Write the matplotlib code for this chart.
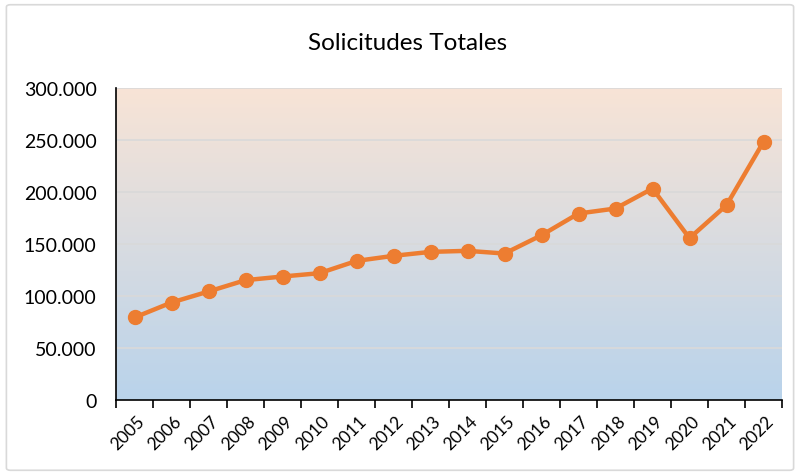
import matplotlib
matplotlib.use('Agg')
import matplotlib.pyplot as plt
import matplotlib.transforms as mtransforms
from matplotlib.patches import FancyBboxPatch
from matplotlib.colors import LinearSegmentedColormap
from matplotlib.ticker import FuncFormatter, FixedLocator
import numpy as np

# datos
years = [str(y) for y in range(2005, 2023)]
solicitudes = [79500, 93900, 104500, 115400, 118900, 122100, 133900, 138800, 142600,
               143600, 141000, 158600, 179500, 184300, 203500, 155800, 187500, 248400]
y_ticks = [0, 50000, 100000, 150000, 200000, 250000, 300000]

plt.rcParams['font.family'] = ['Lato', 'DejaVu Sans']

fig = plt.figure(figsize=(8, 4.77), dpi=100)
# borde del area del grafico
fig.patches.append(FancyBboxPatch((0.008, 0.012), 0.984, 0.976, boxstyle='round,pad=0,rounding_size=0.005',
                                  transform=fig.transFigure, facecolor='none',
                                  edgecolor='#D9D9D9', linewidth=1.2, zorder=5))
ax = fig.add_axes([0.145, 0.159, 0.8325, 0.654])

x = np.arange(len(years))
ax.set_xlim(-0.5, len(years) - 0.5)
ax.set_ylim(0, 300000)

# fondo degradado
cmap = LinearSegmentedColormap.from_list('bg', ['#B9D3EB', '#F8E4D6'])
grad = np.linspace(0, 1, 256).reshape(-1, 1)
ax.imshow(grad, aspect='auto', cmap=cmap, origin='lower',
          extent=[-0.5, len(years) - 0.5, 0, 300000], zorder=0)

for yt in y_ticks[1:]:
    ax.axhline(yt, color='#D9D9D9', linewidth=1.2, zorder=1)

ax.plot(x, solicitudes, color='#ED7D31', linewidth=3.2, marker='o', markersize=10, zorder=3)

ax.set_yticks(y_ticks)
ax.yaxis.set_major_formatter(FuncFormatter(lambda v, p: f'{int(v):,}'.replace(',', '.')))
ax.tick_params(axis='y', length=0, labelsize=14, pad=14)

ax.set_xticks(x)
ax.set_xticklabels(years, rotation=45, ha='right', va='top', rotation_mode='anchor', fontsize=12.5)
ax.tick_params(axis='x', which='major', length=0, pad=9)
shift = mtransforms.ScaledTranslation(2 / 100, 0, fig.dpi_scale_trans)
for lbl in ax.get_xticklabels():
    lbl.set_transform(lbl.get_transform() + shift)
ax.xaxis.set_minor_locator(FixedLocator(np.arange(-0.5, len(years), 1.0)))
ax.tick_params(axis='x', which='minor', length=6, width=1.2, color='black', direction='out')

for s in ['top', 'right']:
    ax.spines[s].set_visible(False)
ax.spines['left'].set_linewidth(1.2)
ax.spines['bottom'].set_linewidth(1.2)

fig.text(0.51, 0.908, 'Solicitudes Totales', ha='center', va='center', fontsize=17.5)

fig.savefig('out.png', dpi=100)
